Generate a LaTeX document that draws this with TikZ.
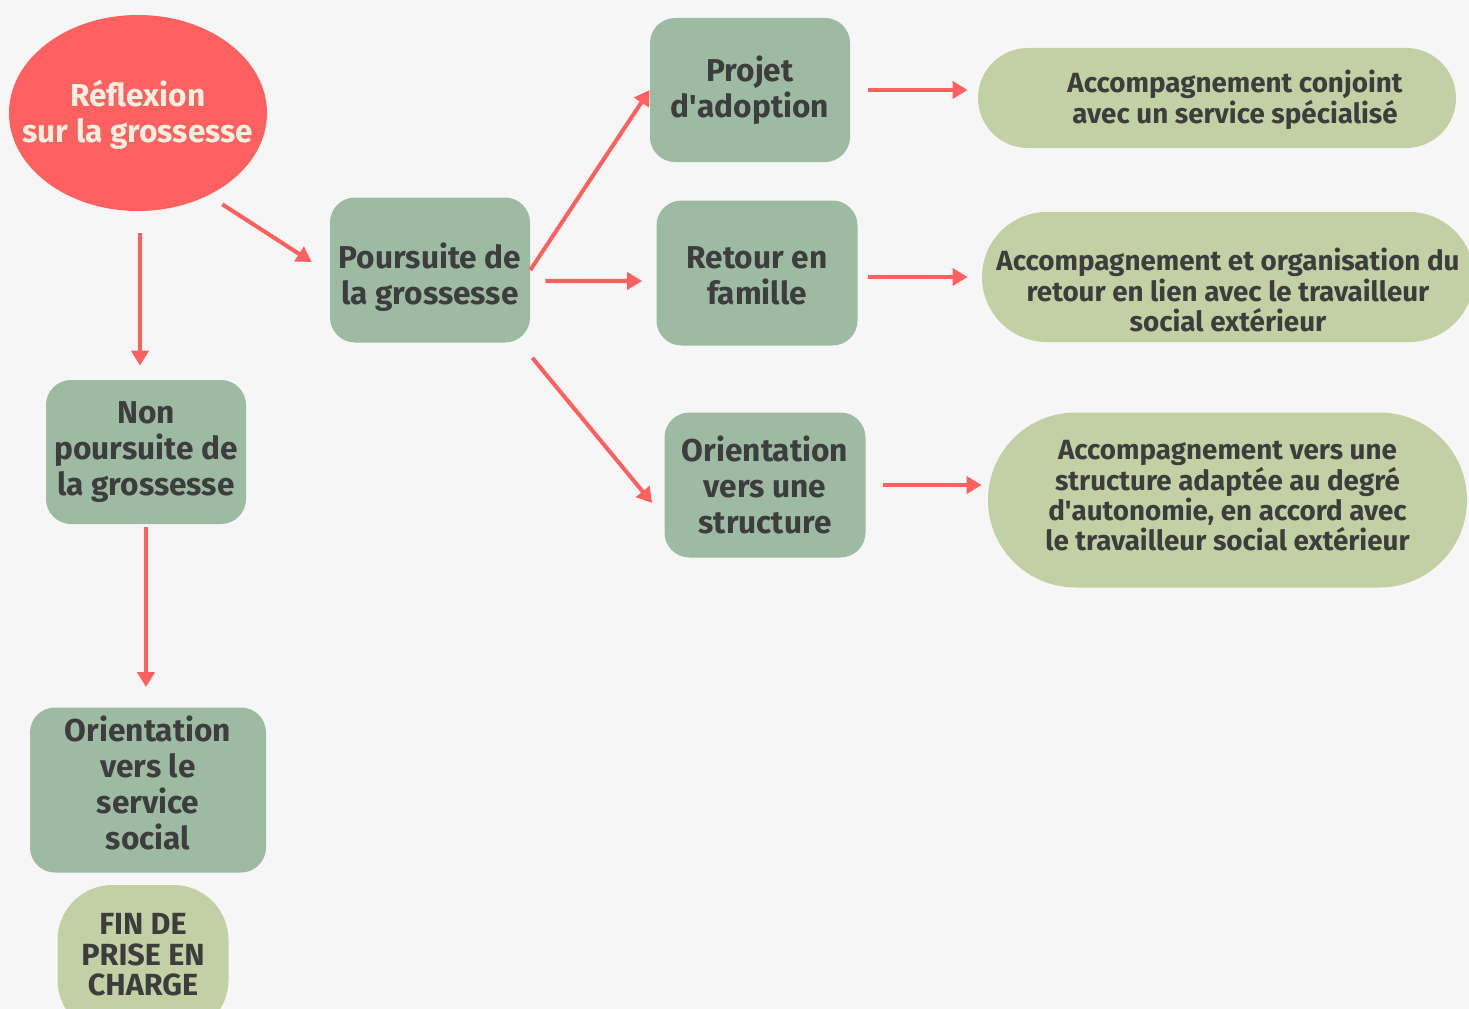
\documentclass[tikz,border=0pt]{standalone}
\usepackage{fontspec}
\setmainfont{Fira Sans}
\usetikzlibrary{shapes.geometric}
\usetikzlibrary{arrows.meta}
\usetikzlibrary{positioning}

\definecolor{bgcol}{HTML}{F6F6F6}
\definecolor{redcol}{HTML}{FF6161}
\definecolor{boxgreen}{HTML}{9DBBA3}
\definecolor{pillgreen}{HTML}{C3D0A3}
\definecolor{txtdark}{HTML}{3D3D3D}
\definecolor{txtcream}{HTML}{F5EFE0}

\begin{document}
\begin{tikzpicture}[
        greenbox/.style={fill=boxgreen, rounded corners=0.5cm},
        pill/.style={fill=pillgreen},
        bigtext/.style={align=center, text=txtdark, font=\bfseries\fontsize{18}{20.5}\selectfont},
        smalltext/.style={align=center, text=txtdark, font=\bfseries\fontsize{15.8}{17.3}\selectfont},
        arr/.style={redcol, line width=2.3pt, -{Triangle[length=0.3cm,width=0.34cm]}}
    ]
            % Background and bounds
            \fill[bgcol] (0,0) rectangle (29.38,-20.18);
            \useasboundingbox (0,0) rectangle (29.38,-20.18);

            % Starting question
            \node[ellipse, fill=redcol, minimum width=5.16cm, minimum height=3.92cm, inner sep=0pt]
                (refl) at (2.76,-2.26) {};
            \node[bigtext, text=txtcream] (refl-t) at ([yshift=-0.04cm]refl.center) {R\'eflexion\\sur la grossesse};

            % Left branch
            \node[greenbox, minimum width=4cm, minimum height=2.88cm] (nonp) at (2.92,-9.04) {};
            \node[bigtext] (nonp-t) at (nonp) {Non\\poursuite de\\la grossesse};
            \node[greenbox, minimum width=4.72cm, minimum height=3.3cm] (social) at (2.96,-15.8) {};
            \node[bigtext] (social-t) at ([yshift=0.14cm]social.center) {Orientation\\vers le\\service\\social};
            \node[pill, rounded corners=1.1cm, minimum width=3.42cm, minimum height=3cm] (fin) at (2.86,-19.2) {};
            \node[smalltext, font=\bfseries\fontsize{17.4}{17.3}\selectfont] (fin-t) at ([yshift=0.1cm]fin.center)
                {FIN DE\\PRISE EN\\CHARGE};

            % Middle branch
            \node[greenbox, minimum width=4cm, minimum height=2.9cm] (pours) at (8.6,-5.4) {};
            \node[bigtext] (pours-t) at ([yshift=-0.14cm]pours.center) {Poursuite de\\la grossesse};
            \node[greenbox, minimum width=4cm, minimum height=2.88cm] (projet) at (15,-1.8) {};
            \node[bigtext] (projet-t) at (projet) {Projet\\d\textquotesingle adoption};
            \node[greenbox, minimum width=4.02cm, minimum height=2.9cm] (retour) at (15.14,-5.46) {};
            \node[bigtext] (retour-t) at ([yshift=-0.06cm]retour.center) {Retour en\\famille};
            \node[greenbox, minimum width=4.02cm, minimum height=2.9cm] (orient) at (15.3,-9.7) {};
            \node[bigtext] (orient-t) at (orient) {Orientation\\vers une\\structure};

            % Follow-up pills
            \node[pill, rounded corners=1cm, minimum width=9.56cm, minimum height=2cm] (acc1) at (24.34,-1.96) {};
            \node[smalltext] (acc1-t) at ([xshift=0.36cm,yshift=-0.04cm]acc1.center)
                {Accompagnement conjoint\\avec un service sp\'ecialis\'e};
            \node[pill, rounded corners=1.3cm, minimum width=9.84cm, minimum height=2.6cm] (acc2) at (24.56,-5.54) {};
            \node[smalltext] (acc2-t) at ([yshift=-0.26cm]acc2.center)
                {Accompagnement et organisation du\\retour en lien avec le travailleur\\social ext\'erieur};
            \node[pill, rounded corners=1.75cm, minimum width=9.58cm, minimum height=3.5cm] (acc3) at (24.55,-10) {};
            \node[smalltext] (acc3-t) at ([yshift=0.08cm]acc3.center)
                {Accompagnement vers une\\structure adapt\'ee au degr\'e\\d\textquotesingle autonomie, en accord avec\\le travailleur social ext\'erieur};

            % Arrows
            \draw[arr] ([shift={(0.12,-0.26)}]refl.-45) -- ([shift={(-0.36,0.16)}]pours.west);
            \draw[arr] ([xshift=0.04cm,yshift=-0.44cm]refl.south) -- ([xshift=0.04cm,yshift=0.28cm]refl.south |- nonp.north);
            \draw[arr] ([yshift=-0.06cm]nonp.south) -- ([yshift=0.4cm]nonp.south |- social.north);
            \draw[arr] (pours.east) -- (projet.west);
            \draw[arr] ([shift={(0.3,-0.22)}]pours.east) -- ([shift={(-0.28,-0.16)}]retour.west);
            \draw[arr] ([shift={(0.04,-0.3)}]pours.south east) -- ([shift={(-0.24,-0.36)}]orient.west);
            \draw[arr] ([xshift=0.36cm]projet.east) -- ([xshift=-0.2cm]acc1.west |- projet.east);
            \draw[arr] ([xshift=0.2cm]retour.east |- acc2.west) -- ([xshift=-0.28cm]acc2.west);
            \draw[arr] ([xshift=0.34cm]orient.east) -- ([xshift=-0.12cm]acc3.west |- orient.east);

        \end{tikzpicture}
\end{document}
